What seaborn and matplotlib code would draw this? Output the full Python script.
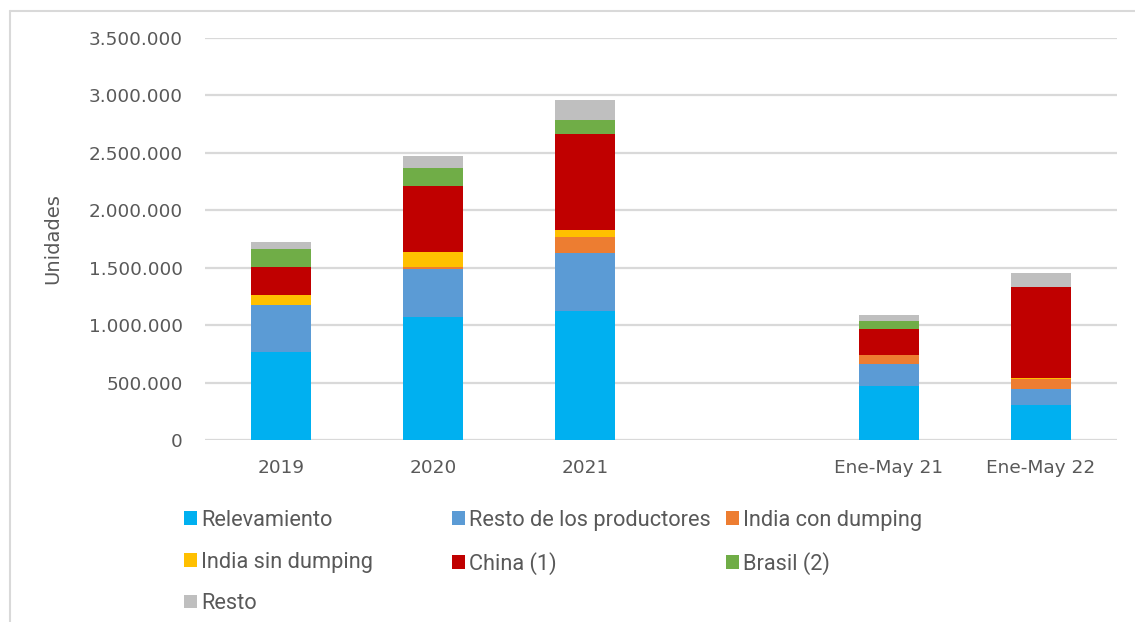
import numpy as np
import pandas as pd
import matplotlib
matplotlib.use("Agg")
import matplotlib.pyplot as plt
from matplotlib.patches import Patch
from matplotlib.lines import Line2D
from matplotlib.ticker import FuncFormatter, MultipleLocator
import seaborn as sns

# datos (unidades)
periodos = ["2019", "2020", "2021", "Ene-May 21", "Ene-May 22"]
relevamiento = [770000, 1073000, 1125000, 467000, 302000]
resto_productores = [405000, 415000, 500000, 197000, 142000]
india_con_dumping = [0, 20000, 142000, 79000, 84000]
india_sin_dumping = [85000, 125000, 61000, 0, 14000]
china = [250000, 578000, 835000, 220000, 790000]
brasil = [155000, 153000, 122000, 70000, 0]
resto = [60000, 110000, 174000, 52000, 121000]

series = ["Relevamiento", "Resto de los productores", "India con dumping",
          "India sin dumping", "China (1)", "Brasil (2)", "Resto"]
colores = ["#00B0F0", "#5B9BD5", "#ED7D31", "#FFC000", "#C00000", "#70AD47", "#BFBFBF"]

df = pd.DataFrame({
    "periodo": periodos,
    "Relevamiento": relevamiento,
    "Resto de los productores": resto_productores,
    "India con dumping": india_con_dumping,
    "India sin dumping": india_sin_dumping,
    "China (1)": china,
    "Brasil (2)": brasil,
    "Resto": resto,
})
acum = df[series].cumsum(axis=1)
acum["periodo"] = df["periodo"]

# hueco vacio entre 2021 y los parciales
orden = ["2019", "2020", "2021", " ", "Ene-May 21", "Ene-May 22"]

sns.set_style("white")
plt.rcParams["font.family"] = ["DejaVu Sans"]
gris = "#595959"

fig = plt.figure(figsize=(11.35, 6.22), dpi=100)
ax = fig.add_axes([205 / 1135, 1 - 440 / 622, 912 / 1135, 402 / 622])

# apilado: se dibuja de arriba hacia abajo con los acumulados
for nombre, color in zip(reversed(series), reversed(colores)):
    sns.barplot(data=acum, x="periodo", y=nombre, order=orden, color=color,
                saturation=1, width=0.4, errorbar=None, linewidth=0, ax=ax)

ax.set_ylim(0, 3500000)
ax.yaxis.set_major_locator(MultipleLocator(500000))
ax.yaxis.set_major_formatter(FuncFormatter(lambda v, p: f"{int(v):,}".replace(",", ".")))
ax.grid(axis="y", color="#d9d9d9", linewidth=1.6)
ax.set_axisbelow(True)
for s in ax.spines.values():
    s.set_visible(False)
ax.tick_params(axis="both", length=0, labelsize=13.3, labelcolor=gris)
ax.tick_params(axis="y", pad=16)
ax.tick_params(axis="x", pad=14)
ax.set_xlabel("")
ax.set_ylabel("Unidades", fontsize=14, color=gris)
ax.yaxis.set_label_coords(-0.157, 0.502)

# leyenda en tres columnas como en el original
handles = {n: Patch(facecolor=c, edgecolor="none") for n, c in zip(series, colores)}
columnas = [
    (173, ["Relevamiento", "India sin dumping", "Resto"]),
    (441, ["Resto de los productores", "China (1)"]),
    (715, ["India con dumping", "Brasil (2)"]),
]
for x0, nombres in columnas:
    fig.legend([handles[n] for n in nombres], nombres, loc="upper left",
               bbox_to_anchor=(x0 / 1135, 1 - 499 / 622), frameon=False,
               borderpad=0, handlelength=0.58, handleheight=0.58,
               handletextpad=0.22, labelspacing=0.95,
               prop={"family": "Roboto", "size": 15.7}, labelcolor=gris)

# marco gris del grafico
fig.add_artist(Line2D([10 / 1135, 1], [1 - 11 / 622, 1 - 11 / 622],
                      color="#d9d9d9", linewidth=1.5, transform=fig.transFigure))
fig.add_artist(Line2D([10 / 1135, 10 / 1135], [0, 1 - 11 / 622],
                      color="#d9d9d9", linewidth=1.5, transform=fig.transFigure))

fig.savefig("out.png", dpi=100)
